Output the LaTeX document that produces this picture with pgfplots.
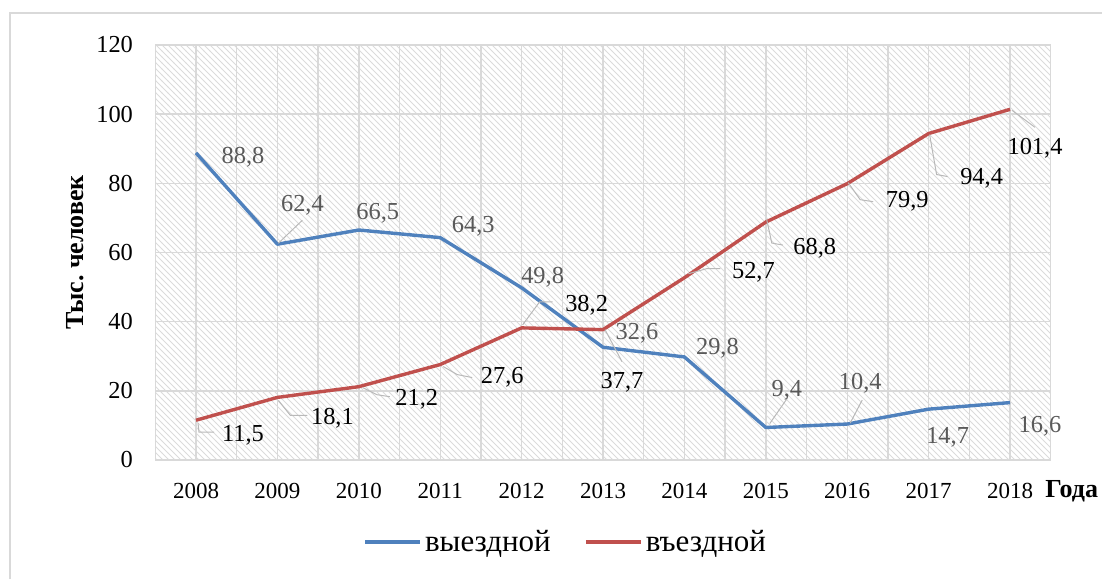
\documentclass[border=0pt]{standalone}
\usepackage{fontspec}
\setmainfont{Liberation Serif}
\usepackage{pgfplots}
\pgfplotsset{compat=1.18}
\usetikzlibrary{patterns}
\definecolor{vyezd}{HTML}{4F81BD}
\definecolor{vezd}{HTML}{C0504D}
\definecolor{lbgray}{HTML}{595959}
\definecolor{gridc}{HTML}{D9D9D9}
\tikzset{leader/.style={gray!55, line width=0.5pt}}
% data label: x, y, dx, dy, text, colour
\newcommand\lbl[6]{\node[font=\fontsize{12.2}{14}\selectfont, text=#6, inner sep=0pt] at ([shift={(#3pt,#4pt)}]axis cs:#1,#2) {#5};}
\begin{document}
\begin{tikzpicture}
\useasboundingbox (0pt,0pt) rectangle (551pt,289.5pt);
\draw[gridc, line width=0.8pt] (5pt,0pt) -- (5pt,283pt) -- (560pt,283pt);
\begin{axis}[
  scale only axis, width=447.7pt, height=207.5pt,
  at={(77.65pt,59.5pt)}, anchor=south west,
  clip mode=individual,
  xmin=-0.5, xmax=10.5, ymin=0, ymax=120,
  ytick={0,20,...,120},
  xtick={0,...,10},
  xticklabels={2008,2009,2010,2011,2012,2013,2014,2015,2016,2017,2018},
  minor xtick={-0.5,0.5,...,10.5},
  xmajorgrids, xminorgrids, ymajorgrids,
  grid style={gridc, line width=0.7pt},
  minor grid style={gridc, line width=0.7pt},
  axis background/.style={pattern=north west lines, pattern color=black!14},
  axis line style={draw=none},
  major tick length=0pt, minor tick length=0pt,
  tick label style={inner sep=0pt, text=black},
  xticklabel style={font=\fontsize{11.5}{13}\selectfont, anchor=north, yshift=-11.5pt},
  yticklabel style={font=\fontsize{12.2}{14}\selectfont, anchor=east, xshift=-11pt},
  /pgf/number format/assume math mode=true,
  ylabel={Тыс.\ человек},
  ylabel style={font=\bfseries\fontsize{13}{15}\selectfont, at={(axis description cs:-0.0897,0.5)}, anchor=center},
  xlabel={Года},
  xlabel style={font=\bfseries\fontsize{13}{15}\selectfont, at={(axis description cs:0.9936,-0.0892)}, anchor=base west, inner sep=0pt},
  legend style={at={(axis description cs:0.4587,-0.1976)}, anchor=center, draw=none, fill=none,
    legend columns=2, font=\fontsize{15.5}{17}\selectfont,
    /tikz/every even column/.append style={column sep=15pt},
    nodes={inner sep=1.5pt}},
  legend image code/.code={\draw[#1, line width=2pt] (0pt,0pt) -- (27.5pt,0pt);},
]
\addplot[vyezd, line width=1.7pt, line join=round] coordinates
{(0,88.8) (1,62.4) (2,66.5) (3,64.3) (4,49.8) (5,32.6) (6,29.8) (7,9.4) (8,10.4) (9,14.7) (10,16.6)};
\addlegendentry{выездной}
\addplot[vezd, line width=1.7pt, line join=round] coordinates
{(0,11.5) (1,18.1) (2,21.2) (3,27.6) (4,38.2) (5,37.7) (6,52.7) (7,68.8) (8,79.9) (9,94.4) (10,101.4)};
\addlegendentry{въездной}

% leader lines
\draw[leader] (axis cs:1,62.4) ++(0.5pt,0.5pt) -- ++(12pt,11.5pt);
\draw[leader] (axis cs:7,9.4) ++(2pt,2pt) -- ++(9pt,13pt);
\draw[leader] (axis cs:8,10.4) ++(1.5pt,0.5pt) -- ++(6pt,11.5pt);
\draw[leader] (axis cs:0,11.5) ++(1pt,-1.5pt) -- ++(0.5pt,-4.5pt) -- ++(7.5pt,0pt);
\draw[leader] (axis cs:1,18.1) ++(0.5pt,-1.5pt) -- ++(6pt,-7.5pt) -- ++(8.5pt,0pt);
\draw[leader] (axis cs:2,21.2) ++(2pt,-0.5pt) -- ++(7pt,-3.5pt) -- ++(6.5pt,-1pt);
\draw[leader] (axis cs:3,27.6) ++(1.5pt,-1pt) -- ++(7pt,-4pt) -- ++(7.5pt,-1.5pt);
\draw[leader] (axis cs:4,38.2) ++(0.5pt,1.5pt) -- ++(8.5pt,11.5pt) -- ++(6.5pt,0pt);
\draw[leader] (axis cs:5,37.7) ++(1pt,0pt) -- ++(8.5pt,-16pt);
\draw[leader] (axis cs:6,52.7) ++(2pt,2pt) -- ++(9pt,2.5pt) -- ++(7pt,0pt);
\draw[leader] (axis cs:7,68.8) ++(0.5pt,1pt) -- ++(2.5pt,-11.5pt) -- ++(5.5pt,-1pt);
\draw[leader] (axis cs:8,79.9) ++(0.5pt,0.5pt) -- ++(6pt,-8.5pt) -- ++(6.5pt,-1pt);
\draw[leader] (axis cs:9,94.4) ++(0.5pt,-0.5pt) -- ++(3.5pt,-20pt) -- ++(5.5pt,-1pt);
\draw[leader] (axis cs:10,101.4) ++(1pt,-0.5pt) -- ++(11.5pt,-8.5pt);

% labels, outbound series
\lbl{0}{88.8}{23.5}{-2}{88,8}{lbgray}
\lbl{1}{62.4}{12.5}{19.5}{62,4}{lbgray}
\lbl{2}{66.5}{9.5}{8.5}{66,5}{lbgray}
\lbl{3}{64.3}{16.5}{5.5}{64,3}{lbgray}
\lbl{4}{49.8}{10.5}{5.5}{49,8}{lbgray}
\lbl{5}{32.6}{17}{7}{32,6}{lbgray}
\lbl{6}{29.8}{16.5}{4.5}{29,8}{lbgray}
\lbl{7}{9.4}{10.5}{18.5}{9,4}{lbgray}
\lbl{8}{10.4}{6.5}{20.5}{10,4}{lbgray}
\lbl{9}{14.7}{9.5}{-14}{14,7}{lbgray}
\lbl{10}{16.6}{15}{-12}{16,6}{lbgray}
% labels, inbound series
\lbl{0}{11.5}{23.5}{-7.5}{11,5}{black}
\lbl{1}{18.1}{27.5}{-10.5}{18,1}{black}
\lbl{2}{21.2}{29}{-6.5}{21,2}{black}
\lbl{3}{27.6}{31}{-6.5}{27,6}{black}
\lbl{4}{38.2}{32.5}{11.5}{38,2}{black}
\lbl{5}{37.7}{9.5}{-26.5}{37,7}{black}
\lbl{6}{52.7}{34.5}{2.5}{52,7}{black}
\lbl{7}{68.8}{24.5}{-13}{68,8}{black}
\lbl{8}{79.9}{30}{-9}{79,9}{black}
\lbl{9}{94.4}{26.5}{-22.5}{94,4}{black}
\lbl{10}{101.4}{12.5}{-19.5}{101,4}{black}
\end{axis}
\end{tikzpicture}
\end{document}
